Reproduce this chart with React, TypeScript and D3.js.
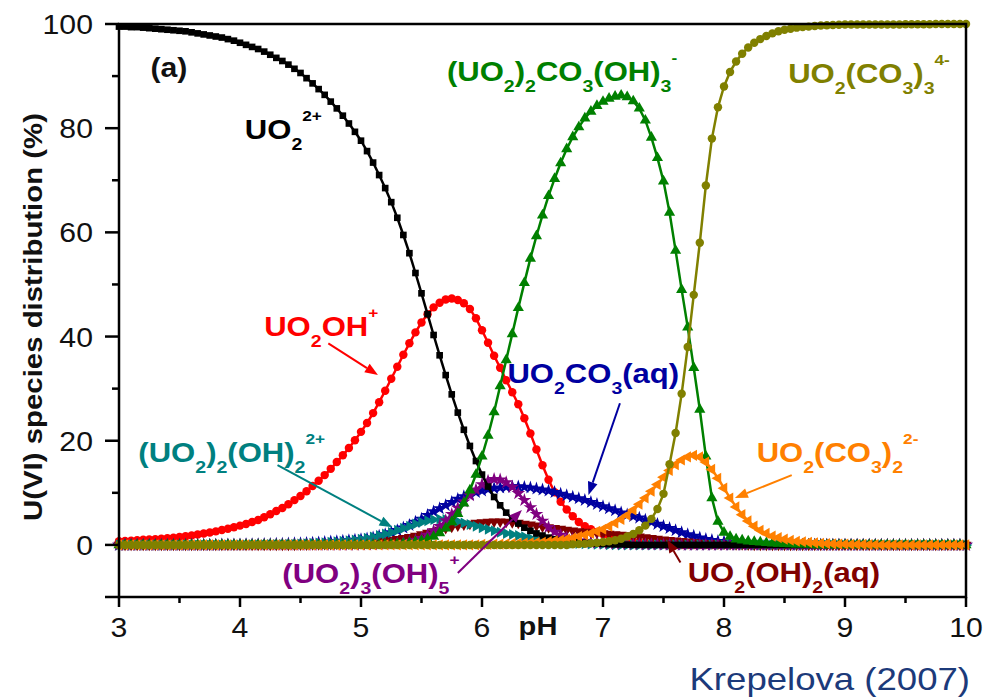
import React from 'react';
import * as d3 from 'd3';

// Speciation sampled every 0.05 pH from pH 3.0 to 10.0 (141 points per species).
const PH_START = 3;
const PH_STEP = 0.05;

// UO2^2+
const uo2 = [
  99.5, 99.5, 99.4, 99.4, 99.3, 99.2, 99.1, 99.0, 98.9, 98.8,
  98.7, 98.6, 98.4, 98.2, 98.0, 97.8, 97.6, 97.4, 97.1, 96.8,
  96.4, 96.0, 95.6, 95.2, 94.7, 94.1, 93.5, 92.9, 92.2, 91.4,
  90.6, 89.6, 88.6, 87.5, 86.4, 85.1, 83.8, 82.4, 80.9, 79.3,
  77.6, 75.6, 73.4, 71.0, 68.5, 65.8, 62.8, 59.5, 56.0, 52.2,
  48.3, 44.3, 40.3, 36.4, 32.6, 28.9, 25.4, 22.1, 19.0, 16.1,
  13.5, 11.2, 9.2, 7.6, 6.2, 5.0, 4.1, 3.3, 2.7, 2.2,
  1.8, 1.4, 1.1, 0.9, 0.7, 0.6, 0.5, 0.4, 0.3, 0.25,
  0.2, 0.15, 0.1, 0.1, 0.05, 0, 0, 0, 0, 0,
  0, 0, 0, 0, 0, 0, 0, 0, 0, 0,
  0, 0, 0, 0, 0, 0, 0, 0, 0, 0,
  0, 0, 0, 0, 0, 0, 0, 0, 0, 0,
  0, 0, 0, 0, 0, 0, 0, 0, 0, 0,
  0, 0, 0, 0, 0, 0, 0, 0, 0, 0,
  0,
];

// UO2OH+
const uo2oh = [
  0.7, 0.75, 0.8, 0.9, 1.0, 1.05, 1.1, 1.2, 1.3, 1.4,
  1.5, 1.65, 1.8, 2.0, 2.2, 2.4, 2.6, 2.85, 3.1, 3.4,
  3.7, 4.0, 4.4, 4.8, 5.3, 5.9, 6.5, 7.1, 7.8, 8.6,
  9.4, 10.3, 11.3, 12.3, 13.4, 14.6, 15.9, 17.2, 18.6, 20.1,
  21.7, 23.4, 25.3, 27.4, 29.6, 31.9, 34.2, 36.5, 38.7, 40.8,
  42.7, 44.3, 45.6, 46.5, 47.1, 47.3, 47.0, 46.4, 45.3, 43.5,
  41.2, 38.8, 36.3, 34.0, 31.6, 29.3, 27.0, 24.3, 21.4, 18.3,
  15.3, 12.5, 10.1, 8.3, 6.8, 5.5, 4.4, 3.6, 3.0, 2.5,
  2.1, 1.7, 1.4, 1.1, 0.9, 0.7, 0.5, 0.4, 0.3, 0.2,
  0.1, 0.1, 0.05, 0, 0, 0, 0, 0, 0, 0,
  0, 0, 0, 0, 0, 0, 0, 0, 0, 0,
  0, 0, 0, 0, 0, 0, 0, 0, 0, 0,
  0, 0, 0, 0, 0, 0, 0, 0, 0, 0,
  0, 0, 0, 0, 0, 0, 0, 0, 0, 0,
  0,
];

// (UO2)2(OH)2^2+
const dimer = [
  0, 0, 0, 0, 0, 0, 0, 0, 0, 0,
  0, 0, 0, 0, 0, 0, 0, 0, 0, 0,
  0, 0, 0.05, 0.05, 0.05, 0.1, 0.1, 0.1, 0.15, 0.15,
  0.2, 0.25, 0.3, 0.35, 0.4, 0.5, 0.6, 0.7, 0.8, 0.95,
  1.1, 1.3, 1.5, 1.8, 2.1, 2.4, 2.8, 3.2, 3.6, 4.0,
  4.35, 4.65, 4.85, 4.95, 4.9, 4.75, 4.5, 4.2, 3.9, 3.6,
  3.3, 3.0, 2.7, 2.45, 2.2, 2.0, 1.8, 1.55, 1.3, 1.1,
  0.9, 0.75, 0.6, 0.5, 0.4, 0.3, 0.25, 0.2, 0.15, 0.1,
  0.1, 0.05, 0.05, 0, 0, 0, 0, 0, 0, 0,
  0, 0, 0, 0, 0, 0, 0, 0, 0, 0,
  0, 0, 0, 0, 0, 0, 0, 0, 0, 0,
  0, 0, 0, 0, 0, 0, 0, 0, 0, 0,
  0, 0, 0, 0, 0, 0, 0, 0, 0, 0,
  0, 0, 0, 0, 0, 0, 0, 0, 0, 0,
  0,
];

// (UO2)3(OH)5^+
const trimer = [
  0, 0, 0, 0, 0, 0, 0, 0, 0, 0,
  0, 0, 0, 0, 0, 0, 0, 0, 0, 0,
  0, 0, 0, 0, 0, 0, 0, 0, 0, 0,
  0, 0, 0, 0, 0, 0, 0, 0, 0, 0,
  0.05, 0.05, 0.1, 0.15, 0.2, 0.25, 0.3, 0.45, 0.65, 0.9,
  1.3, 1.9, 2.7, 3.6, 4.7, 5.9, 7.1, 8.3, 9.5, 10.6,
  11.6, 12.3, 12.6, 12.5, 12.0, 11.1, 9.9, 8.6, 7.2, 5.9,
  4.6, 3.4, 2.5, 1.9, 1.4, 1.1, 0.8, 0.6, 0.5, 0.4,
  0.35, 0.3, 0.25, 0.2, 0.2, 0.15, 0.15, 0.1, 0.1, 0.1,
  0.05, 0.05, 0.05, 0, 0, 0, 0, 0, 0, 0,
  0, 0, 0, 0, 0, 0, 0, 0, 0, 0,
  0, 0, 0, 0, 0, 0, 0, 0, 0, 0,
  0, 0, 0, 0, 0, 0, 0, 0, 0, 0,
  0, 0, 0, 0, 0, 0, 0, 0, 0, 0,
  0,
];

// UO2(OH)2(aq)
const hydroxo = [
  0, 0, 0, 0, 0, 0, 0, 0, 0, 0,
  0, 0, 0, 0, 0, 0, 0, 0, 0, 0,
  0, 0, 0, 0, 0, 0, 0, 0, 0, 0,
  0.05, 0.05, 0.1, 0.1, 0.15, 0.15, 0.2, 0.2, 0.25, 0.3,
  0.35, 0.45, 0.55, 0.65, 0.8, 0.95, 1.1, 1.3, 1.5, 1.75,
  2.0, 2.3, 2.6, 2.9, 3.2, 3.45, 3.7, 3.9, 4.05, 4.2,
  4.3, 4.4, 4.45, 4.45, 4.4, 4.3, 4.2, 4.05, 3.9, 3.7,
  3.5, 3.35, 3.2, 3.05, 2.9, 2.75, 2.6, 2.5, 2.4, 2.3,
  2.2, 2.1, 2.0, 1.9, 1.8, 1.7, 1.6, 1.45, 1.3, 1.15,
  1.0, 0.9, 0.8, 0.7, 0.6, 0.5, 0.4, 0.35, 0.3, 0.25,
  0.2, 0.15, 0.1, 0.1, 0.05, 0, 0, 0, 0, 0,
  0, 0, 0, 0, 0, 0, 0, 0, 0, 0,
  0, 0, 0, 0, 0, 0, 0, 0, 0, 0,
  0, 0, 0, 0, 0, 0, 0, 0, 0, 0,
  0,
];

// UO2CO3(aq)
const carb1 = [
  0, 0, 0, 0, 0, 0, 0, 0, 0, 0,
  0, 0, 0, 0, 0, 0, 0, 0.05, 0.05, 0.05,
  0.05, 0.1, 0.1, 0.1, 0.15, 0.15, 0.2, 0.2, 0.25, 0.3,
  0.3, 0.35, 0.4, 0.45, 0.5, 0.6, 0.65, 0.75, 0.85, 0.95,
  1.05, 1.2, 1.4, 1.7, 2.0, 2.4, 2.8, 3.3, 3.8, 4.4,
  5.0, 5.7, 6.4, 7.0, 7.6, 8.2, 8.8, 9.3, 9.7, 10.1,
  10.4, 10.7, 10.9, 11.0, 11.1, 11.2, 11.2, 11.1, 11.0, 10.8,
  10.6, 10.4, 10.1, 9.8, 9.5, 9.2, 8.9, 8.6, 8.2, 7.8,
  7.4, 7.0, 6.6, 6.2, 5.8, 5.5, 5.2, 4.8, 4.4, 4.0,
  3.6, 3.2, 2.8, 2.4, 2.0, 1.7, 1.4, 1.1, 0.9, 0.7,
  0.6, 0.5, 0.4, 0.3, 0.25, 0.2, 0.15, 0.1, 0.1, 0.05,
  0.05, 0.05, 0, 0, 0, 0, 0, 0, 0, 0,
  0, 0, 0, 0, 0, 0, 0, 0, 0, 0,
  0, 0, 0, 0, 0, 0, 0, 0, 0, 0,
  0,
];

// (UO2)2CO3(OH)3^-
const ternary = [
  0, 0, 0, 0, 0, 0, 0, 0, 0, 0,
  0, 0, 0, 0, 0, 0, 0, 0, 0, 0,
  0, 0, 0, 0, 0, 0, 0, 0, 0, 0,
  0, 0, 0, 0, 0, 0, 0, 0, 0, 0,
  0, 0, 0, 0.05, 0.1, 0.15, 0.2, 0.3, 0.4, 0.55,
  0.75, 1.1, 1.6, 2.3, 3.2, 4.4, 6.0, 8.0, 10.5, 13.5,
  17.0, 21.0, 25.5, 30.5, 35.5, 40.5, 45.5, 50.3, 55.0, 59.3,
  63.3, 67.0, 70.3, 73.3, 76.0, 78.3, 80.2, 81.9, 83.2, 84.3,
  85.1, 85.7, 86.1, 86.3, 86.0, 85.2, 83.8, 81.5, 78.2, 74.3,
  69.8, 63.8, 56.5, 49.0, 41.8, 34.0, 26.0, 17.0, 9.0, 4.5,
  2.4, 1.6, 1.1, 0.9, 0.7, 0.6, 0.5, 0.4, 0.3, 0.25,
  0.2, 0.15, 0.1, 0.1, 0.05, 0, 0, 0, 0, 0,
  0, 0, 0, 0, 0, 0, 0, 0, 0, 0,
  0, 0, 0, 0, 0, 0, 0, 0, 0, 0,
  0,
];

// UO2(CO3)2^2-
const carb2 = [
  0, 0, 0, 0, 0, 0, 0, 0, 0, 0,
  0, 0, 0, 0, 0, 0, 0, 0, 0, 0,
  0, 0, 0, 0, 0, 0, 0, 0, 0, 0,
  0, 0, 0, 0, 0, 0, 0, 0, 0, 0,
  0, 0, 0, 0, 0, 0, 0, 0, 0, 0,
  0, 0, 0, 0, 0, 0, 0, 0, 0, 0,
  0.1, 0.1, 0.15, 0.15, 0.2, 0.25, 0.3, 0.35, 0.4, 0.45,
  0.5, 0.65, 0.8, 0.95, 1.1, 1.3, 1.6, 1.9, 2.2, 2.6,
  3.0, 3.6, 4.2, 4.9, 5.7, 6.7, 7.8, 9.0, 10.3, 11.6,
  13.0, 14.3, 15.4, 16.3, 16.9, 17.2, 16.9, 15.9, 14.5, 12.8,
  10.9, 9.0, 7.3, 5.8, 4.6, 3.6, 2.8, 2.2, 1.7, 1.4,
  1.1, 0.9, 0.7, 0.6, 0.5, 0.4, 0.3, 0.25, 0.2, 0.15,
  0.15, 0.1, 0.1, 0.1, 0.05, 0.05, 0, 0, 0, 0,
  0, 0, 0, 0, 0, 0, 0, 0, 0, 0,
  0,
];

// UO2(CO3)3^4-
const carb3 = [
  0, 0, 0, 0, 0, 0, 0, 0, 0, 0,
  0, 0, 0, 0, 0, 0, 0, 0, 0, 0,
  0, 0, 0, 0, 0, 0, 0, 0, 0, 0,
  0, 0, 0, 0, 0, 0, 0, 0, 0, 0,
  0, 0, 0, 0, 0, 0, 0, 0, 0, 0,
  0, 0, 0, 0, 0, 0, 0, 0, 0, 0,
  0, 0, 0, 0, 0, 0, 0, 0, 0, 0,
  0, 0, 0, 0, 0, 0.1, 0.15, 0.2, 0.3, 0.4,
  0.55, 0.7, 0.9, 1.2, 1.6, 2.1, 2.8, 3.7, 5.0, 6.9,
  9.8, 15.5, 21.5, 29.0, 38.0, 48.0, 58.0, 69.0, 78.0, 84.0,
  88.0, 90.8, 92.8, 94.3, 95.5, 96.4, 97.1, 97.7, 98.2, 98.6,
  98.9, 99.1, 99.3, 99.4, 99.5, 99.6, 99.7, 99.75, 99.8, 99.85,
  99.9, 99.9, 99.9, 99.9, 99.9, 99.9, 99.9, 99.9, 99.9, 99.9,
  99.95, 99.95, 99.95, 99.95, 99.95, 100, 100, 100, 100, 100,
  100,
];

const X_TICKS = [3, 4, 5, 6, 7, 8, 9, 10];
const X_MINOR = [3.5, 4.5, 5.5, 6.5, 7.5, 8.5, 9.5];
const Y_TICKS = [0, 20, 40, 60, 80, 100];
const Y_MINOR = [-10, 10, 30, 50, 70, 90];

type Kind = 'n' | 'sub' | 'sup';
type Part = [string, Kind];

const W = 990;
const H = 700;
const xScale = d3.scaleLinear().domain([3, 10]).range([119, 966]);
const yScale = d3.scaleLinear().domain([-10, 100]).range([597, 24]);

// Drawing order: later entries sit on top
const series = [
  { id: 'uo2oh', values: uo2oh, color: '#ff0000', symbol: d3.symbolCircle, size: 56, rotate: 0 },
  { id: 'carb1', values: carb1, color: '#0000a0', symbol: d3.symbolStar, size: 58, rotate: 0 },
  { id: 'hydroxo', values: hydroxo, color: '#800000', symbol: d3.symbolTriangle, size: 52, rotate: 180 },
  { id: 'dimer', values: dimer, color: '#008080', symbol: d3.symbolTriangle, size: 52, rotate: 90 },
  { id: 'trimer', values: trimer, color: '#800080', symbol: d3.symbolStar, size: 58, rotate: 0 },
  { id: 'uo2', values: uo2, color: '#000000', symbol: d3.symbolSquare, size: 44, rotate: 0 },
  { id: 'ternary', values: ternary, color: '#008000', symbol: d3.symbolTriangle, size: 54, rotate: 0 },
  { id: 'carb2', values: carb2, color: '#ff8000', symbol: d3.symbolTriangle, size: 54, rotate: -90 },
  { id: 'carb3', values: carb3, color: '#808000', symbol: d3.symbolCircle, size: 56, rotate: 0 },
];

// Species labels, anchored in data coordinates (pH, %)
const labels: { color: string; at: [number, number]; parts: Part[] }[] = [
  { color: '#000000', at: [4.04, 78.0], parts: [['UO', 'n'], ['2', 'sub'], ['2+', 'sup']] },
  { color: '#ff0000', at: [4.2, 40.2], parts: [['UO', 'n'], ['2', 'sub'], ['OH', 'n'], ['+', 'sup']] },
  {
    color: '#008000', at: [5.71, 89.1],
    parts: [['(UO', 'n'], ['2', 'sub'], [')', 'n'], ['2', 'sub'], ['CO', 'n'], ['3', 'sub'], ['(OH)', 'n'], ['3', 'sub'], ['-', 'sup']],
  },
  {
    color: '#808000', at: [8.53, 88.7],
    parts: [['UO', 'n'], ['2', 'sub'], ['(CO', 'n'], ['3', 'sub'], [')', 'n'], ['3', 'sub'], ['4-', 'sup']],
  },
  {
    color: '#0000a0', at: [6.21, 31.0],
    parts: [['UO', 'n'], ['2', 'sub'], ['CO', 'n'], ['3', 'sub'], ['(aq)', 'n']],
  },
  {
    color: '#ff8000', at: [8.27, 15.9],
    parts: [['UO', 'n'], ['2', 'sub'], ['(CO', 'n'], ['3', 'sub'], [')', 'n'], ['2', 'sub'], ['2-', 'sup']],
  },
  {
    color: '#008080', at: [3.16, 15.9],
    parts: [['(UO', 'n'], ['2', 'sub'], [')', 'n'], ['2', 'sub'], ['(OH)', 'n'], ['2', 'sub'], ['2+', 'sup']],
  },
  {
    color: '#800080', at: [4.35, -7.3],
    parts: [['(UO', 'n'], ['2', 'sub'], [')', 'n'], ['3', 'sub'], ['(OH)', 'n'], ['5', 'sub'], ['+', 'sup']],
  },
  {
    color: '#800000', at: [7.7, -7.1],
    parts: [['UO', 'n'], ['2', 'sub'], ['(OH)', 'n'], ['2', 'sub'], ['(aq)', 'n']],
  },
];

// Leader arrows: [from, to] in data coordinates
const arrows: { color: string; from: [number, number]; to: [number, number] }[] = [
  { color: '#ff0000', from: [4.73, 38.7], to: [5.14, 32.6] },
  { color: '#008080', from: [4.31, 15.3], to: [5.26, 3.4] },
  { color: '#800080', from: [5.8, -5.4], to: [6.33, 6.7] },
  { color: '#0000a0', from: [7.14, 27.2], to: [6.88, 9.6] },
  { color: '#ff8000', from: [8.56, 13.4], to: [8.09, 9.0] },
  { color: '#800000', from: [7.64, -3.4], to: [7.53, 1.0] },
];

const FONT = "'Liberation Sans', Arial, Helvetica, sans-serif";
const STRETCH = 1.15;

function RichLabel({ x, y, parts, color }: { x: number; y: number; parts: Part[]; color: string }) {
  let shift = 0;
  const spans = parts.map(([t, k], i) => {
    const target = k === 'sub' ? 11 : k === 'sup' ? -18 : 0;
    const dy = target - shift;
    shift = target;
    const fs = k === 'n' ? 27 : k === 'sub' ? 17 : 15;
    return (
      <tspan key={i} dy={dy} fontSize={fs}>
        {t}
      </tspan>
    );
  });
  return (
    <g transform={`translate(${x},${y}) scale(${STRETCH},1)`}>
      <text fill={color} fontFamily={FONT} fontWeight="bold">
        {spans}
      </text>
    </g>
  );
}

function Arrow({ color, from, to }: { color: string; from: [number, number]; to: [number, number] }) {
  const x1 = xScale(from[0]);
  const y1 = yScale(from[1]);
  const x2 = xScale(to[0]);
  const y2 = yScale(to[1]);
  const ang = Math.atan2(y2 - y1, x2 - x1);
  const len = 13;
  const half = 5;
  const bx = x2 - len * Math.cos(ang);
  const by = y2 - len * Math.sin(ang);
  const px = -Math.sin(ang) * half;
  const py = Math.cos(ang) * half;
  return (
    <g>
      <line x1={x1} y1={y1} x2={bx} y2={by} stroke={color} strokeWidth={2} />
      <path d={`M${x2},${y2}L${bx + px},${by + py}L${bx - px},${by - py}Z`} fill={color} />
    </g>
  );
}

export default function App() {
  const line = d3
    .line<number>()
    .x((_, i) => xScale(PH_START + i * PH_STEP))
    .y((v) => yScale(v));

  const left = xScale(3);
  const right = xScale(10);
  const top = yScale(100);
  const bottom = yScale(-10);

  return (
    <svg
      width={W}
      height={H}
      viewBox={`0 0 ${W} ${H}`}
      style={{ position: 'absolute', left: 0, top: 0, background: '#ffffff' }}
    >
      <rect width={W} height={H} fill="#ffffff" />

      {/* curves with markers */}
      {series.map((s) => {
        const sym = d3.symbol().type(s.symbol).size(s.size)() || '';
        return (
          <g key={s.id}>
            <path d={line(s.values) || ''} fill="none" stroke={s.color} strokeWidth={2.5} />
            {s.values.map((v, i) => (
              <path
                key={i}
                d={sym}
                fill={s.color}
                transform={`translate(${xScale(PH_START + i * PH_STEP)},${yScale(v)}) rotate(${s.rotate})`}
              />
            ))}
          </g>
        );
      })}

      {/* frame */}
      <rect x={left} y={top} width={right - left} height={bottom - top} fill="none" stroke="#000" strokeWidth={2.5} />

      {/* x ticks */}
      {X_TICKS.map((t) => (
        <g key={'xt' + t}>
          <line x1={xScale(t)} x2={xScale(t)} y1={bottom} y2={bottom + 10} stroke="#000" strokeWidth={2.5} />
          <g transform={`translate(${xScale(t)},${bottom + 40}) scale(1.12,1)`}>
            <text textAnchor="middle" fontFamily={FONT} fontSize={27} fill="#111">
              {t}
            </text>
          </g>
        </g>
      ))}
      {X_MINOR.map((t) => (
        <line key={'xm' + t} x1={xScale(t)} x2={xScale(t)} y1={bottom} y2={bottom + 6} stroke="#000" strokeWidth={2.5} />
      ))}

      {/* y ticks */}
      {Y_TICKS.map((t) => (
        <g key={'yt' + t}>
          <line x1={left - 14} x2={left} y1={yScale(t)} y2={yScale(t)} stroke="#000" strokeWidth={2.5} />
          <g transform={`translate(${left - 26},${yScale(t) + 10}) scale(1.12,1)`}>
            <text textAnchor="end" fontFamily={FONT} fontSize={27} fill="#111">
              {t}
            </text>
          </g>
        </g>
      ))}
      {Y_MINOR.map((t) => (
        <line
          key={'ym' + t}
          x1={left - (t === -10 ? 14 : 7)}
          x2={left}
          y1={yScale(t)}
          y2={yScale(t)}
          stroke="#000"
          strokeWidth={2.5}
        />
      ))}

      {/* axis titles */}
      <g transform={`translate(538,635) scale(1.12,1)`}>
        <text textAnchor="middle" fontFamily={FONT} fontSize={26} fontWeight="bold" fill="#111">
          pH
        </text>
      </g>
      <g transform={`translate(42,317) rotate(-90) scale(1.13,1)`}>
        <text textAnchor="middle" fontFamily={FONT} fontSize={26} fontWeight="bold" fill="#111">
          U(VI) species distribution (%)
        </text>
      </g>

      {/* panel tag */}
      <g transform={`translate(${xScale(3.26)},${yScale(89.8)}) scale(1.12,1)`}>
        <text fontFamily={FONT} fontSize={27} fontWeight="bold" fill="#111">
          (a)
        </text>
      </g>

      {/* leader arrows */}
      {arrows.map((a, i) => (
        <Arrow key={i} color={a.color} from={a.from} to={a.to} />
      ))}

      {/* species labels */}
      {labels.map((l, i) => (
        <RichLabel key={i} x={xScale(l.at[0])} y={yScale(l.at[1])} parts={l.parts} color={l.color} />
      ))}

      {/* source */}
      <g transform="translate(970,690) scale(1.18,1)">
        <text textAnchor="end" fontFamily={FONT} fontSize={31} fill="#1c3a7a">
          Krepelova (2007)
        </text>
      </g>
    </svg>
  );
}
